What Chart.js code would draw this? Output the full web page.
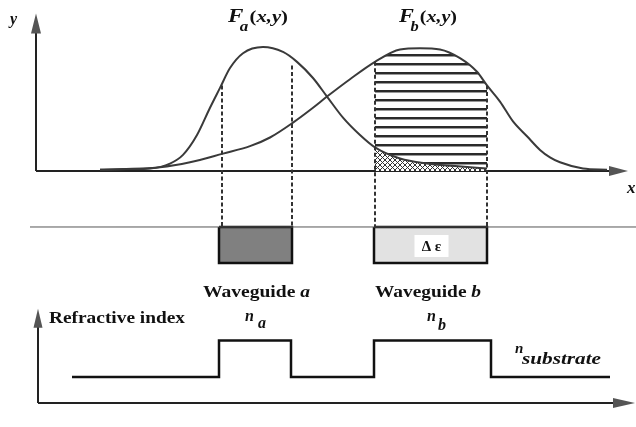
<!DOCTYPE html>
<html><head><meta charset="utf-8">
<script src="https://cdn.jsdelivr.net/npm/chart.js@4"></script>
<style>html,body{margin:0;padding:0;background:#fff}canvas{display:block}</style>
</head><body>
<canvas id="c" width="636" height="427"></canvas>
<script>
// ---- data (x: lateral position, arbitrary units) ----
const positionFa = [6.4, 9.4, 11.4, 13.4, 14.7, 16.1, 17.4, 18.4, 19.4, 20.7, 22.7, 24.7, 26.1, 27.7, 29.1, 30.7, 32.4, 33.9, 36.4, 39.1, 41.9, 45.1];
const fieldFa    = [0.01, 0.015, 0.02, 0.06, 0.13, 0.29, 0.51, 0.67, 0.83, 0.95, 1.00, 0.96, 0.88, 0.75, 0.60, 0.43, 0.29, 0.19, 0.10, 0.06, 0.04, 0.02];
const positionFb = [6.4, 12.4, 15.4, 18.7, 21.4, 23.4, 25.7, 27.7, 29.1, 31.4, 33.9, 36.4, 38.4, 40.4, 42.4, 44.1, 45.1, 46.4, 47.7, 49.1, 50.4, 51.4, 52.4, 54.7, 57.1];
const fieldFb    = [0.01, 0.03, 0.07, 0.14, 0.20, 0.27, 0.39, 0.51, 0.60, 0.74, 0.88, 0.98, 0.99, 0.98, 0.91, 0.80, 0.69, 0.56, 0.40, 0.28, 0.17, 0.11, 0.07, 0.02, 0.01];
const guideA = [18.3, 25.6];          // waveguide a extent
const guideB = [33.8, 45.1];          // waveguide b extent
const overlapRange = [33.9, 45.1];    // shaded overlap region
const dashEdges = [18.6, 25.6, 33.9, 45.1];
const dashTopField = [0.69, 0.85, 0.88, 0.69];
const profileX = [3.6, 18.3, 25.5, 33.8, 45.5, 57.4];
const profileN = [1.45, 1.52, 1.45, 1.52, 1.45, 1.45];
const guideDepth = [0, -1];           // waveguide band top / bottom
const axisNBase = 1.40;

const pts = (xs, ys) => xs.map((x, i) => ({x, y: ys[i]}));
const inRange = (xs, ys, r) => pts(xs, ys).filter(p => p.x >= r[0] - 1e-9 && p.x <= r[1] + 1e-9);
const rectPoly = (g) => [{x:g[0],y:guideDepth[0]},{x:g[1],y:guideDepth[0]},{x:g[1],y:guideDepth[1]},{x:g[0],y:guideDepth[1]},{x:g[0],y:guideDepth[0]}];

function makePattern(kind) {
  const c = document.createElement('canvas');
  const g = c.getContext('2d');
  if (kind === 'h') {
    c.width = 9; c.height = 9;
    g.fillStyle = '#2a2a2a'; g.fillRect(0, 0, 9, 2);
    g.fillStyle = '#999'; g.fillRect(0, 2, 9, 1);
  } else {
    c.width = 5; c.height = 5;
    g.fillStyle = '#fff'; g.fillRect(0, 0, 5, 5);
    g.strokeStyle = '#333'; g.lineWidth = 1;
    g.beginPath();
    for (let o = -5; o <= 5; o += 5) {
      g.moveTo(o, 0); g.lineTo(o + 5, 5);
      g.moveTo(o + 5, 0); g.lineTo(o, 5);
    }
    g.stroke();
  }
  return g.createPattern(c, 'repeat');
}

const SERIF = '"Liberation Serif", "DejaVu Serif", serif';
function rich(ctx, parts, x, y, width) {
  let total = 0;
  parts.forEach(p => { ctx.font = p.f; p.w = ctx.measureText(p.t).width; total += p.w + (p.dx || 0); });
  const k = width ? width / total : 1;
  ctx.save(); ctx.translate(x, y); ctx.scale(k, 1);
  let cx = 0;
  parts.forEach(p => { ctx.font = p.f; ctx.fillText(p.t, cx + (p.dx || 0), p.dy || 0); cx += p.w + (p.dx || 0); });
  ctx.restore();
}
function arrow(ctx, tx, ty, dir, len, half) {
  ctx.beginPath();
  if (dir === 'up') { ctx.moveTo(tx, ty); ctx.lineTo(tx - half, ty + len); ctx.lineTo(tx + half, ty + len); }
  else { ctx.moveTo(tx, ty); ctx.lineTo(tx - len, ty - half); ctx.lineTo(tx - len, ty + half); }
  ctx.closePath(); ctx.fill();
}

const diagram = {
  id: 'diagram',
  beforeDatasetsDraw(chart) {
    const {ctx, scales} = chart;
    const X = v => scales.x.getPixelForValue(v), F = v => scales.yF.getPixelForValue(v), N = v => scales.yN.getPixelForValue(v);
    ctx.save();
    ctx.strokeStyle = '#222'; ctx.fillStyle = '#555'; ctx.lineWidth = 2;
    // top axes
    const x0 = X(0), y0 = F(0);
    ctx.beginPath(); ctx.moveTo(x0, y0); ctx.lineTo(x0, F(1.27) + 16); ctx.moveTo(x0, y0); ctx.lineTo(X(59.2) - 16, y0); ctx.stroke();
    arrow(ctx, x0, F(1.27), 'up', 20, 5);
    arrow(ctx, X(59.2), y0, 'right', 19, 5);
    // bottom axes
    const bx = X(0.2), by = N(axisNBase);
    ctx.beginPath(); ctx.moveTo(bx, by); ctx.lineTo(bx, N(1.581) + 16); ctx.moveTo(bx, by); ctx.lineTo(X(59.9) - 16, by); ctx.stroke();
    arrow(ctx, bx, N(1.581), 'up', 19, 4.5);
    arrow(ctx, X(59.9), by, 'right', 22, 5);
    ctx.restore();
  },
  afterDatasetsDraw(chart) {
    const {ctx, scales} = chart;
    const X = v => scales.x.getPixelForValue(v), F = v => scales.yF.getPixelForValue(v), W = v => scales.yW.getPixelForValue(v);
    ctx.save();
    // dashed guides from the fields down to the waveguides
    ctx.strokeStyle = '#333'; ctx.lineWidth = 2; ctx.setLineDash([4, 2.5]);
    dashEdges.forEach((e, i) => {
      ctx.beginPath(); ctx.moveTo(X(e), F(dashTopField[i])); ctx.lineTo(X(e), W(guideDepth[0])); ctx.stroke();
    });
    ctx.setLineDash([]);
    // delta epsilon box
    const cx = X((guideB[0] + guideB[1]) / 2) + 1, cy = W((guideDepth[0] + guideDepth[1]) / 2) + 1;
    ctx.fillStyle = '#fff'; ctx.fillRect(cx - 17, cy - 11, 34, 22);
    ctx.fillStyle = '#111'; ctx.textBaseline = 'alphabetic';
    ctx.font = 'bold 15px ' + SERIF; ctx.textAlign = 'center';
    ctx.fillText('\u0394 \u03b5', cx, cy + 5);
    ctx.textAlign = 'left';
    const bi = s => 'bold italic ' + s + 'px ' + SERIF, b = s => 'bold ' + s + 'px ' + SERIF;
    // axis letters
    rich(ctx, [{t: 'y', f: bi(16)}], 10, 24);
    rich(ctx, [{t: 'x', f: bi(17)}], 627, 193);
    // field labels
    rich(ctx, [{t: 'F', f: bi(19)}, {t: 'a', f: bi(14), dx: -3, dy: 9}, {t: '(', f: b(17), dx: 1}, {t: 'x,y', f: bi(17)}, {t: ')', f: b(17)}], 228, 22, 60);
    rich(ctx, [{t: 'F', f: bi(19)}, {t: 'b', f: bi(14), dx: -3, dy: 9}, {t: '(', f: b(17), dx: 1}, {t: 'x,y', f: bi(17)}, {t: ')', f: b(17)}], 399, 22, 58);
    // waveguide labels
    rich(ctx, [{t: 'Waveguide ', f: b(17)}, {t: 'a', f: bi(17)}], 203, 297, 107);
    rich(ctx, [{t: 'Waveguide ', f: b(17)}, {t: 'b', f: bi(17)}], 375, 297, 106);
    rich(ctx, [{t: 'Refractive index', f: b(17)}], 49, 323, 136);
    rich(ctx, [{t: 'n', f: bi(16)}, {t: 'a', f: bi(16), dx: 4, dy: 7}], 245, 321);
    rich(ctx, [{t: 'n', f: bi(16)}, {t: 'b', f: bi(16), dx: 2, dy: 9}], 427, 321);
    rich(ctx, [{t: 'n', f: bi(15)}], 515, 353);
    rich(ctx, [{t: 'substrate', f: bi(16)}], 522, 364, 79);
    ctx.restore();
  }
};

const line = (data, extra) => Object.assign({data, xAxisID: 'x', pointRadius: 0, borderColor: '#333', borderWidth: 2, fill: false}, extra);

new Chart(document.getElementById('c'), {
  type: 'line',
  data: {
    datasets: [
      line(pts(positionFa, fieldFa), {yAxisID: 'yF', cubicInterpolationMode: 'monotone', borderColor: '#3a3a3a'}),
      line(pts(positionFb, fieldFb), {yAxisID: 'yF', cubicInterpolationMode: 'monotone', borderColor: '#3a3a3a'}),
      line(inRange(positionFa, fieldFa, overlapRange), {yAxisID: 'yF', cubicInterpolationMode: 'monotone', borderWidth: 0, borderColor: 'rgba(0,0,0,0)', fill: 'origin', backgroundColor: makePattern('x')}),
      line(inRange(positionFb, fieldFb, overlapRange), {yAxisID: 'yF', cubicInterpolationMode: 'monotone', borderWidth: 0, borderColor: 'rgba(0,0,0,0)', fill: 'origin', backgroundColor: makePattern('h')}),
      line([{x: -0.6, y: guideDepth[0]}, {x: 60, y: guideDepth[0]}], {yAxisID: 'yW', borderWidth: 1, borderColor: '#555'}),
      line(rectPoly(guideA), {yAxisID: 'yW', borderWidth: 2.5, borderColor: '#111', tension: 0}),
      line(rectPoly(guideB), {yAxisID: 'yW', borderWidth: 2.5, borderColor: '#111', tension: 0}),
      line([{x: guideA[0], y: guideDepth[0]}, {x: guideA[1], y: guideDepth[0]}], {yAxisID: 'yW', borderWidth: 0, borderColor: 'rgba(0,0,0,0)', fill: {value: guideDepth[1]}, backgroundColor: '#808080'}),
      line([{x: guideB[0], y: guideDepth[0]}, {x: guideB[1], y: guideDepth[0]}], {yAxisID: 'yW', borderWidth: 0, borderColor: 'rgba(0,0,0,0)', fill: {value: guideDepth[1]}, backgroundColor: '#e2e2e2'}),
      line(pts(profileX, profileN), {yAxisID: 'yN', stepped: 'before', borderWidth: 2.5, borderColor: '#111'})
    ]
  },
  options: {
    responsive: false, animation: false, events: [],
    layout: {padding: 0},
    plugins: {legend: {display: false}, tooltip: {enabled: false}},
    scales: {
      x:  {type: 'linear', display: false, min: -3.6, max: 60},
      yF: {type: 'linear', display: false, min: -2.065, max: 1.379},
      yW: {type: 'linear', display: false, min: -5.556, max: 6.306},
      yN: {type: 'linear', display: false, min: 1.3538, max: 2.175}
    }
  },
  plugins: [diagram]
});
</script>
</body></html>
